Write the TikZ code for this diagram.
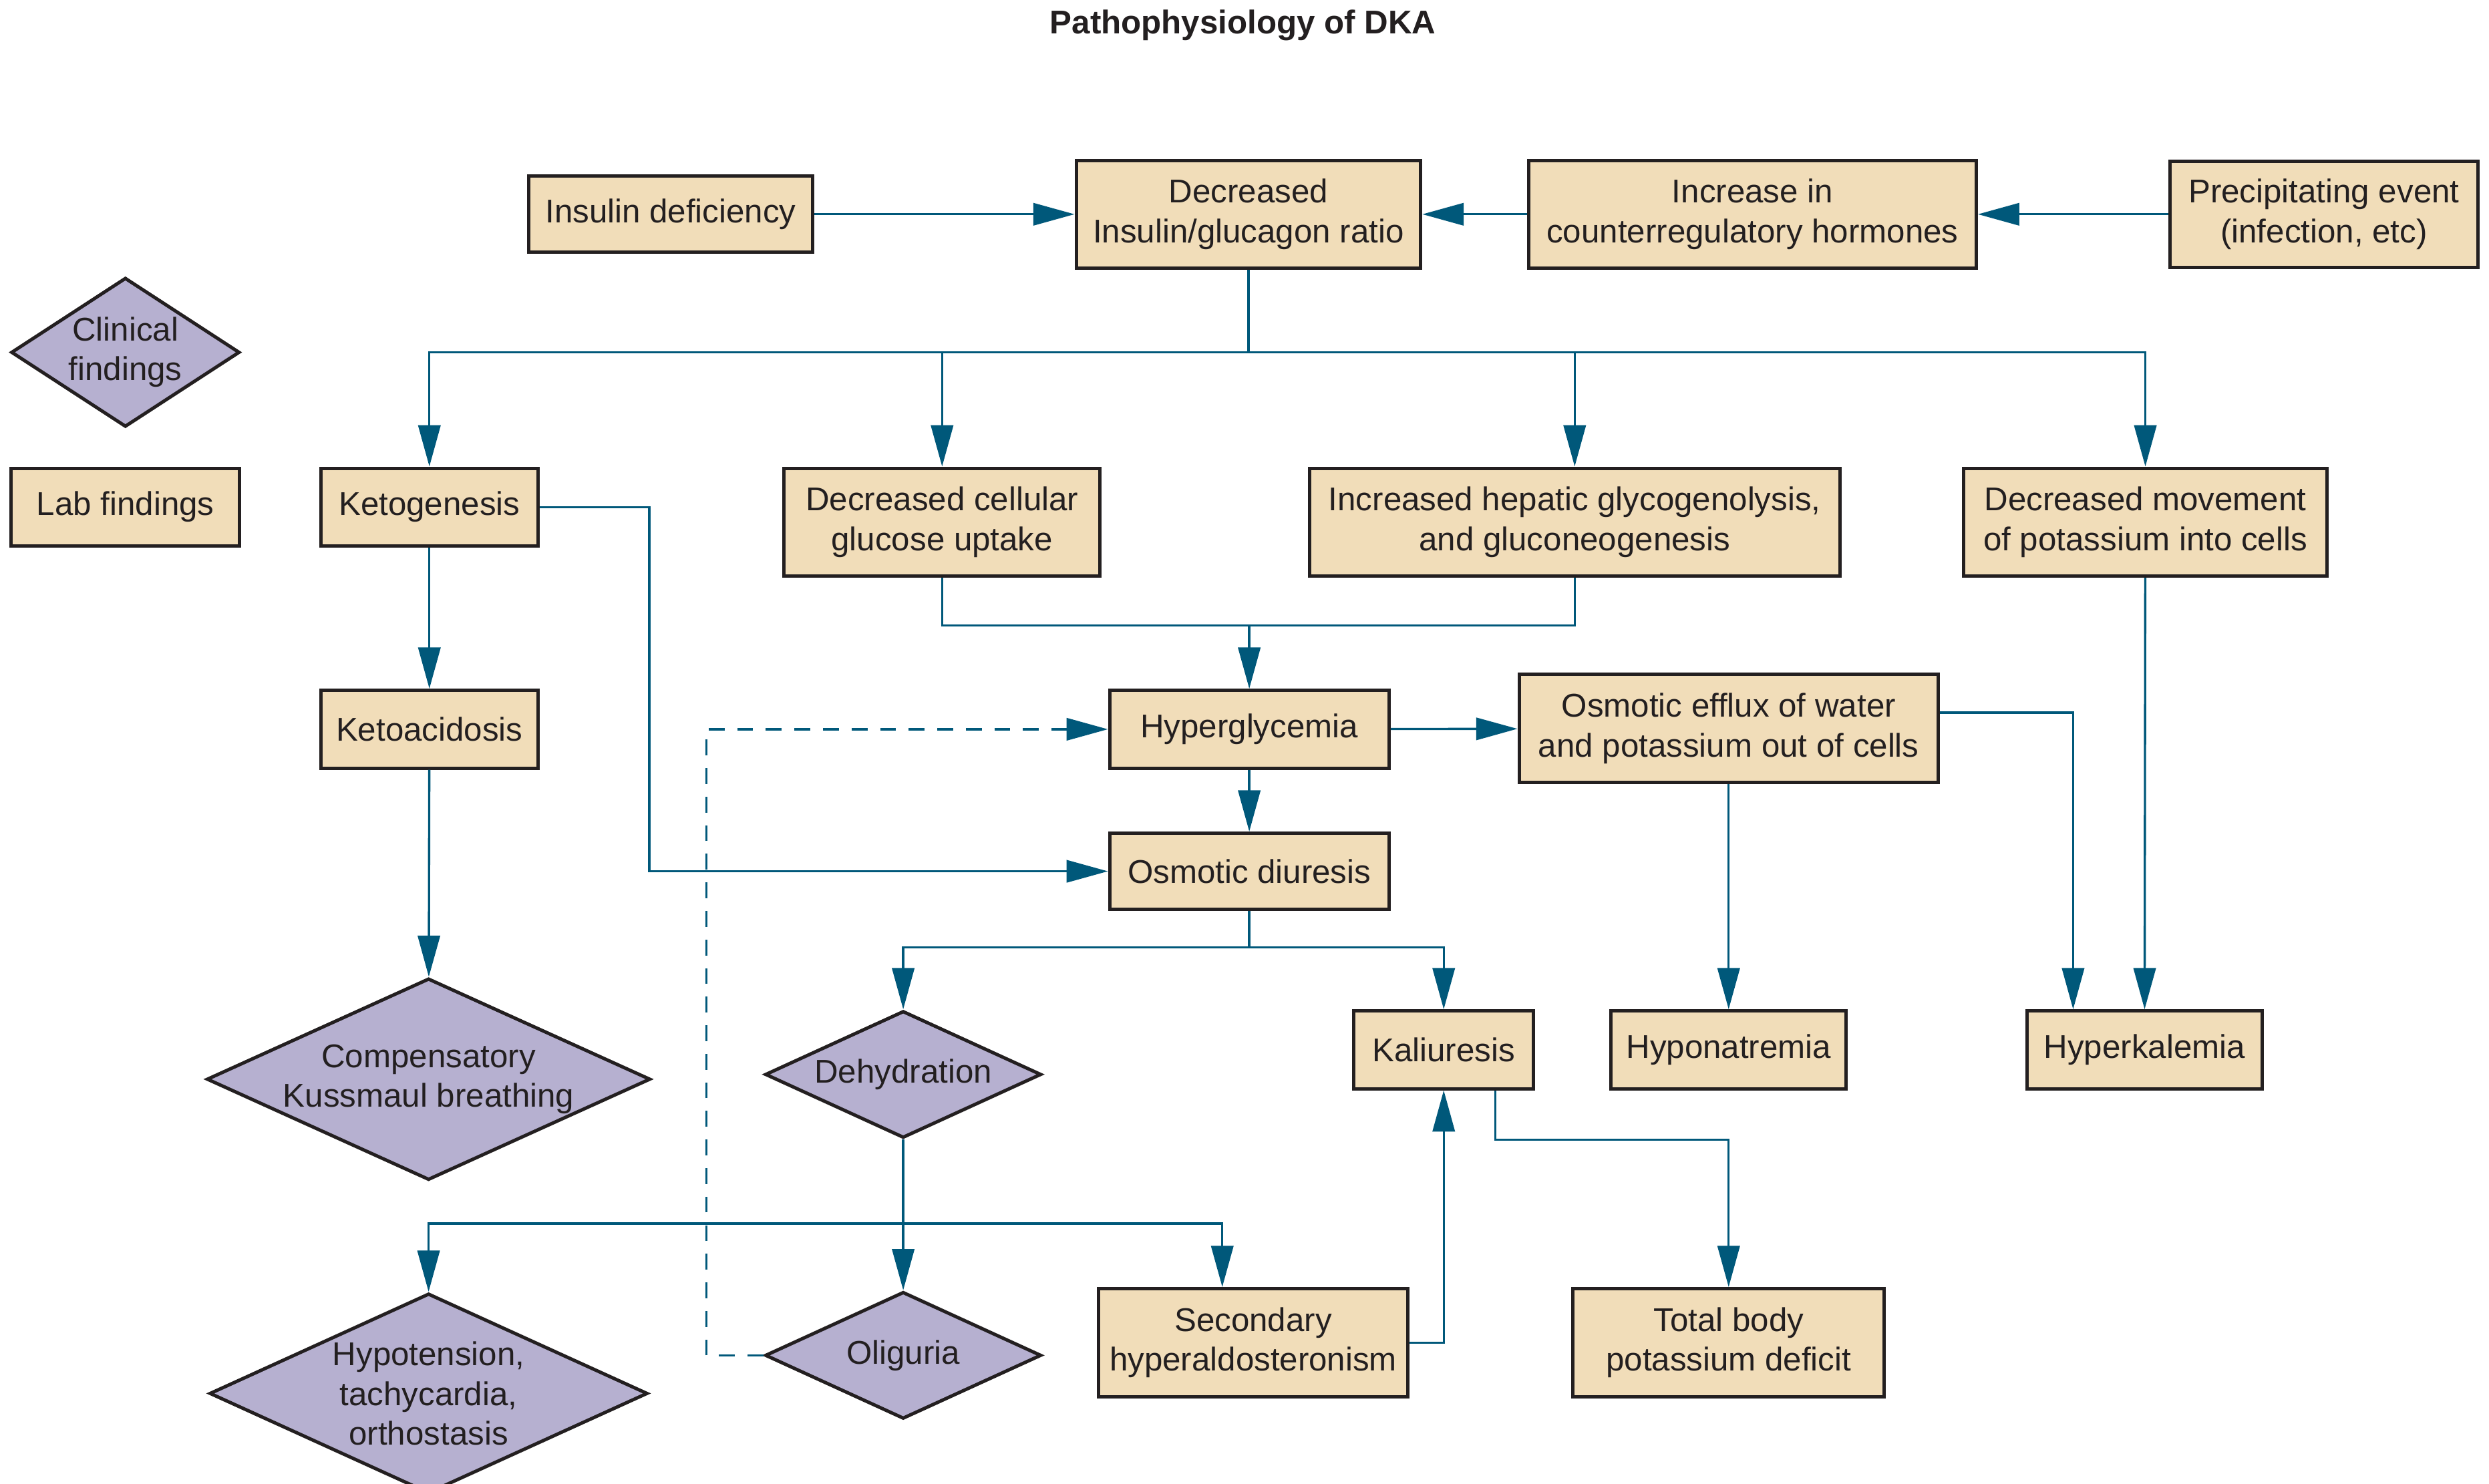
\documentclass[tikz,border=0pt]{standalone}
\usepackage{fontspec}
\setmainfont{Liberation Sans}
\usetikzlibrary{
  positioning, arrows.meta, shapes.geometric, calc
}
\definecolor{dkabeige}{HTML}{F1DDB9}
\definecolor{dkalilac}{HTML}{B6B0D0}
\definecolor{dkateal}{HTML}{00587A}
\definecolor{dkaink}{HTML}{231F20}

\tikzset{
  labbox/.style 2 args={draw=dkaink, line width=1.2pt, fill=dkabeige, text=dkaink,
    align=center, inner sep=0pt, minimum width=#1*0.2mm, minimum height=#2*0.2mm},
  clinic/.style 2 args={diamond, draw=dkaink, line width=1.2pt, fill=dkalilac, text=dkaink,
    align=center, inner sep=0pt, minimum width=#1*0.2mm, minimum height=#2*0.2mm},
  wire/.style={draw=dkateal, line width=0.8pt},
  flow/.style={wire, -{Triangle[length=5.2mm, width=2.8mm]}},
}

\begin{document}
\begin{tikzpicture}[x=0.2mm, y=-0.2mm, font=\fontsize{11.8pt}{14.2pt}\selectfont]
  \useasboundingbox (0,0) rectangle (1568,935);

  \node[text=dkaink] (title) at (783,16) {\bfseries Pathophysiology of DKA};

  % top row
  \node[labbox={179}{48}] (insulin) at (422.5,135) {Insulin deficiency};
  \node[labbox={217}{68}] (ratio) at (786.5,135) {Decreased\\Insulin/glucagon ratio};
  \node[labbox={282}{68}] (counter) at (1104,135) {Increase in\\counterregulatory hormones};
  \node[labbox={194}{67}] (precip) at (1464,135) {Precipitating event\\(infection, etc)};

  % key
  \node[clinic={144}{94}, aspect=1.5] (keyclin) at (79,222) {Clinical\\findings};
  \node[labbox={144}{49}] (keylab) at (79,319.5) {Lab findings};

  % second row
  \node[labbox={137}{49}] (keto) at (270.5,319.5) {Ketogenesis};
  \node[labbox={199}{68}] (uptake) at (593.5,329) {Decreased cellular\\glucose uptake};
  \node[labbox={334}{68}] (hepatic) at (992,329) {Increased hepatic glycogenolysis,\\and gluconeogenesis};
  \node[labbox={229}{68}] (movement) at (1351.5,329) {Decreased movement\\of potassium into cells};

  % middle
  \node[labbox={137}{49}] (ketoacid) at (270.5,459.5) {Ketoacidosis};
  \node[labbox={176}{49}] (hyperglyc) at (787,459.5) {Hyperglycemia};
  \node[labbox={264}{68}] (efflux) at (1089,459) {Osmotic efflux of water\\and potassium out of cells};
  \node[labbox={176}{48}] (diuresis) at (787,549) {Osmotic diuresis};

  \node[clinic={276}{126}, aspect=2.2] (kussmaul) at (270,680) {Compensatory\\Kussmaul breathing};
  \node[clinic={174}{80}, aspect=2.2] (dehyd) at (569,677) {Dehydration};
  \node[labbox={113}{49}] (kaliuresis) at (909.5,661.5) {Kaliuresis};
  \node[labbox={148}{49}] (hypona) at (1089,661.5) {Hyponatremia};
  \node[labbox={148}{49}] (hyperk) at (1351,661.5) {Hyperkalemia};

  % bottom row
  \node[clinic={174}{80}, aspect=2.2] (oliguria) at (569,854) {Oliguria};
  \node[clinic={276}{126}, aspect=2.2] (hypotension) at (270,878) {Hypotension,\\tachycardia,\\orthostasis};
  \node[labbox={195}{68}] (secondary) at (789.5,846) {Secondary\\hyperaldosteronism};
  \node[labbox={196}{68}] (total) at (1089,846) {Total body\\potassium deficit};

  \coordinate (split) at (786.5,222);
  \coordinate (merge) at (787,394);
  \coordinate (split2) at (787,597);
  \coordinate (split3) at (569,771);

  % connectors
  \draw[flow] (insulin) -- (ratio);
  \draw[flow] (counter) -- (ratio);
  \draw[flow] (precip) -- (counter);
  \draw[wire] (ratio.south) -- (split);
  \draw[flow] (split) -| (keto.north);
  \draw[flow] (split) -| (uptake.north);
  \draw[flow] (split) -| (hepatic.north);
  \draw[flow] (split) -| (movement.north);
  \draw[wire] (uptake.south) |- (merge) -| (hepatic.south);
  \draw[flow] (merge) -- (hyperglyc.north);
  \draw[flow] (keto) -- (ketoacid);
  \draw[flow] (ketoacid) -- (kussmaul);
  \draw[flow] (keto.east) -- ++(69,0) |- (diuresis.west);
  \draw[flow] (hyperglyc) -- (efflux);
  \draw[flow] (hyperglyc) -- (diuresis);
  \draw[flow] ([yshift=2mm]efflux.east) -| ([xshift=-9mm]hyperk.north);
  \draw[flow] (efflux) -- (hypona);
  \draw[flow] (movement) -- (hyperk);
  \draw[wire] (diuresis) -- (split2);
  \draw[flow] (split2) -| (dehyd.north);
  \draw[flow] (split2) -| (kaliuresis.north);
  \draw[flow] (dehyd) -- (oliguria);
  \draw[flow] (split3) -| (hypotension.north);
  \draw[flow] (split3) -| ([xshift=-3.9mm]secondary.north);
  \draw[flow] (secondary.east) -| (kaliuresis.south);
  \draw[flow] ([xshift=6.5mm]kaliuresis.south) -- ++(0,31) -| (total.north);
  \draw[flow, dash pattern=on 2mm off 1.6mm] (oliguria.west) -- ++(-36,0) |- (hyperglyc.west);
\end{tikzpicture}
\end{document}
